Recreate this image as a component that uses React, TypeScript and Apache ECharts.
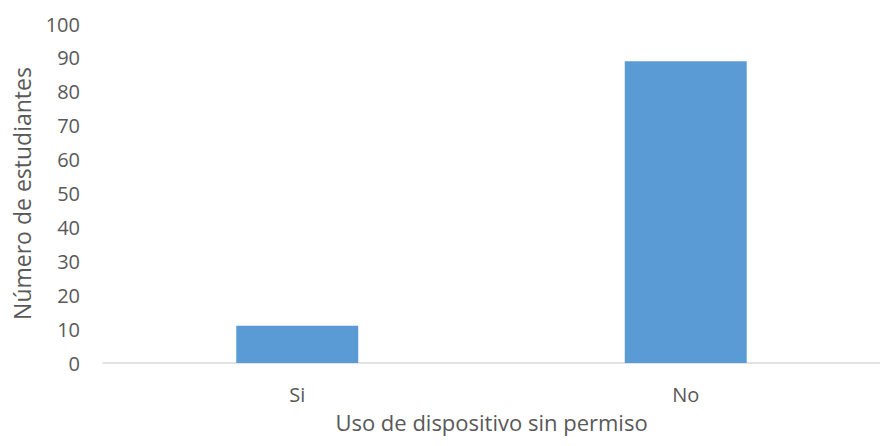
import React, { useEffect, useRef } from "react";
import * as echarts from "echarts";

const categories = ["Si", "No"];
const values = [11, 89];
const yTicks = { min: 0, max: 100, interval: 10 };
const xTitle = "Uso de dispositivo sin permiso";
const yTitle = "Número de estudiantes";

export default function App() {
  const ref = useRef<HTMLDivElement>(null);
  useEffect(() => {
    if (!ref.current) return;
    const chart = echarts.init(ref.current, null, { renderer: "svg" });
    const font = "'Open Sans', 'Liberation Sans', sans-serif";
    chart.setOption({
      animation: false,
      grid: { left: 103, right: 0, top: 24, bottom: 83, containLabel: false },
      xAxis: {
        type: "category",
        data: categories,
        axisLine: { show: true, lineStyle: { color: "#d9d9d9", width: 1.5 } },
        axisTick: { show: false },
        axisLabel: { color: "#595959", fontSize: 20, fontFamily: font, margin: 21 },
        name: xTitle,
        nameLocation: "middle",
        nameGap: 48,
        nameTextStyle: { color: "#595959", fontSize: 22, fontFamily: font },
      },
      yAxis: {
        type: "value",
        min: yTicks.min,
        max: yTicks.max,
        interval: yTicks.interval,
        axisLine: { show: false },
        axisTick: { show: false },
        splitLine: { show: false },
        axisLabel: { color: "#595959", fontSize: 20, fontFamily: font, margin: 23 },
        name: yTitle,
        nameLocation: "middle",
        nameGap: 70,
        nameTextStyle: { color: "#595959", fontSize: 23, fontFamily: font },
      },
      series: [
        {
          type: "bar",
          data: values,
          barWidth: "31.4%",
          itemStyle: { color: "#5b9bd5" },
        },
      ],
    });
    return () => chart.dispose();
  }, []);
  return <div ref={ref} style={{ width: 880, height: 446, position: "absolute", left: 0, top: 0 }} />;
}
